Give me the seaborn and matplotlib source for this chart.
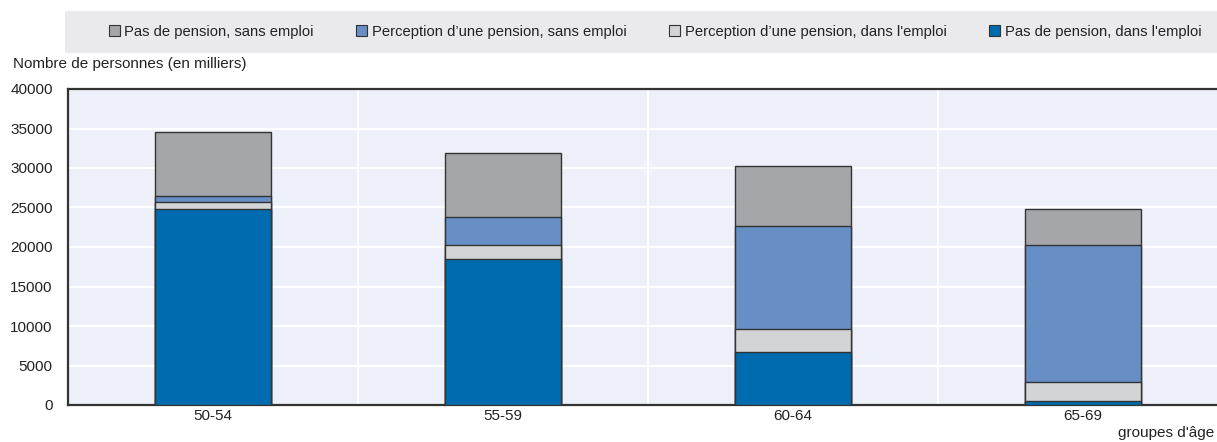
import matplotlib
matplotlib.use("Agg")
import matplotlib.pyplot as plt
import seaborn as sns
import pandas as pd
import numpy as np
from matplotlib.patches import Patch, Rectangle
from matplotlib.ticker import FixedLocator

# ---- data (thousands of persons) ----
age_groups = ["50-54", "55-59", "60-64", "65-69"]
no_pension_employed = [24750, 18500, 6650, 500]
pension_employed = [1000, 1800, 2950, 2450]
pension_not_employed = [650, 3450, 13050, 17300]
no_pension_not_employed = [8200, 8150, 7650, 4600]

series_names = [
    "Pas de pension, dans l'emploi",
    "Perception d\u2019une pension, dans l'emploi",
    "Perception d\u2019une pension, sans emploi",
    "Pas de pension, sans emploi",
]
series_values = [no_pension_employed, pension_employed,
                 pension_not_employed, no_pension_not_employed]
colors = ["#006BAE", "#D3D4D6", "#678FC5", "#A5A6A9"]

ylabel = "Nombre de personnes (en milliers)"
xlabel = "groupes d'\u00e2ge"
yticks = [0, 5000, 10000, 15000, 20000, 25000, 30000, 35000, 40000]

sns.set_theme(style="white")
plt.rcParams['font.family'] = ['Liberation Sans', 'DejaVu Sans']

W, H = 1217, 442
fig = plt.figure(figsize=(W / 100, H / 100), dpi=100)
ax = fig.add_axes([68 / W, 1 - 405 / H, 1160 / W, 316 / H])
ax.set_facecolor("#EDF0F8")

# cumulative stacks, drawn from the top series down
cum = np.cumsum(np.array(series_values), axis=0)
rows = []
for i, name in enumerate(series_names):
    for g, v in zip(age_groups, cum[i]):
        rows.append({"age": g, "series": name, "cum": v})
df = pd.DataFrame(rows)

for i in reversed(range(len(series_names))):
    sub = df[df["series"] == series_names[i]]
    sns.barplot(data=sub, x="age", y="cum", order=age_groups, color=colors[i],
                saturation=1, width=0.4, edgecolor="#333333", linewidth=1.0,
                ax=ax, zorder=3)

ax.set_xlim(-0.5, 3.5)
ax.set_ylim(0, 40000)
ax.set_yticks(yticks)
ax.set_yticklabels([str(t) for t in yticks])
ax.set_xlabel("")
ax.set_ylabel("")

# grid
ax.yaxis.grid(True, color="white", linewidth=1.5, zorder=0)
ax.xaxis.set_minor_locator(FixedLocator([0.5, 1.5, 2.5]))
ax.xaxis.grid(True, which="minor", color="white", linewidth=1.5, zorder=0)
ax.xaxis.grid(False, which="major")
ax.set_axisbelow(True)

ax.tick_params(axis="y", which="both", length=0, pad=11, labelsize=11, labelcolor="#222222")
ax.tick_params(axis="x", which="major", length=0, pad=3, labelsize=11, labelcolor="#222222")
ax.tick_params(axis="x", which="minor", length=5, width=1, direction="in", color="#333333")

for side in ["left", "bottom", "top"]:
    ax.spines[side].set_visible(True)
    ax.spines[side].set_color("#333333")
    ax.spines[side].set_linewidth(1.6)
ax.spines["right"].set_visible(False)

# labels
fig.text(13 / W, 1 - 64 / H, ylabel, ha="left", va="center", fontsize=11, color="#222222")
fig.text(1214 / W, 1 - 433 / H, xlabel, ha="right", va="center", fontsize=11, color="#222222")

# legend band
fig.patches.append(Rectangle((65 / W, 1 - 53 / H), (W - 65) / W, 42 / H,
                             transform=fig.transFigure, facecolor="#EAEAEC",
                             edgecolor="none", zorder=0))
order = [3, 2, 1, 0]
handles = [Patch(facecolor=colors[i], edgecolor="#333333", linewidth=0.8) for i in order]
labels = [series_names[i] for i in order]
fig.legend(handles, labels, loc="center", bbox_to_anchor=(655 / W, 1 - 32 / H),
           ncol=4, frameon=False, fontsize=10.6, handlelength=0.75, handleheight=0.75,
           handletextpad=0.3, columnspacing=2.9, labelcolor="#222222")

fig.savefig("out.png", dpi=100)
